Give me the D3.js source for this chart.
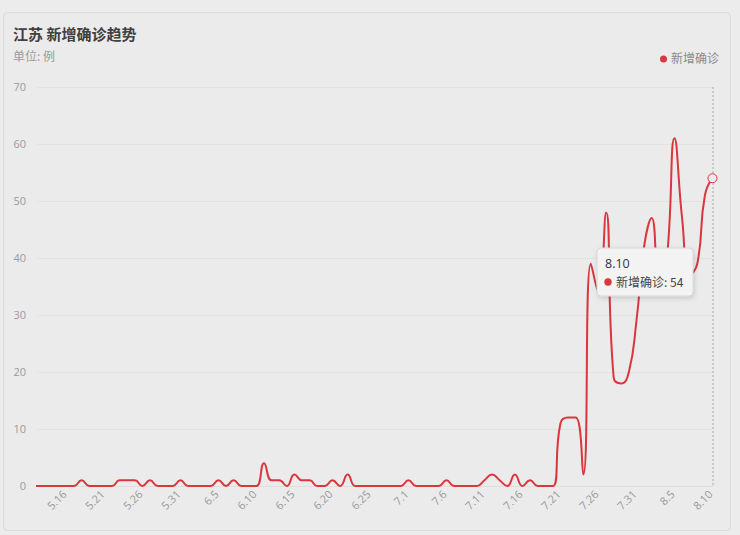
<!DOCTYPE html>
<html><head><meta charset="utf-8">
<script src="https://cdn.jsdelivr.net/npm/d3@7/dist/d3.min.js"></script>
<style>
html,body{margin:0;padding:0;background:#ececec;}
svg{display:block;font-family:"Noto Sans CJK SC","Noto Sans",sans-serif;}
</style></head><body>
<svg id="chart" width="740" height="535"></svg>
<script>
const dates = ["5.12","5.13","5.14","5.15","5.16","5.17","5.18","5.19","5.20","5.21","5.22","5.23","5.24","5.25","5.26","5.27","5.28","5.29","5.30","5.31",
"6.1","6.2","6.3","6.4","6.5","6.6","6.7","6.8","6.9","6.10","6.11","6.12","6.13","6.14","6.15","6.16","6.17","6.18","6.19","6.20","6.21","6.22","6.23","6.24","6.25","6.26","6.27","6.28","6.29",
"7.1","7.2","7.3","7.4","7.5","7.6","7.7","7.8","7.9","7.10","7.11","7.12","7.13","7.14","7.15","7.16","7.17","7.18","7.19","7.20","7.21","7.22","7.23","7.24","7.25","7.26","7.27","7.28","7.29","7.30","7.31",
"8.1","8.2","8.3","8.4","8.5","8.6","8.7","8.8","8.9","8.10"];
const newConfirmed = [0,0,0,0,0,0,1,0,0,0,0,1,1,1,0,1,0,0,0,1,
0,0,0,0,1,0,1,0,0,0,4,1,1,0,2,1,1,0,0,1,0,2,0,0,0,0,0,0,0,
1,0,0,0,0,1,0,0,0,0,1,2,1,0,2,0,1,0,0,0,11,12,12,2,39,34,48,19,18,20,29,
42,47,35,40,61,47,37,39,51,54];
const yTicks = [0,10,20,30,40,50,60,70];
const seriesName = "新增确诊";
const title = "江苏 新增确诊趋势";
const unitLabel = "单位: 例";

const svg = d3.select("#chart");
const red = "#d9363e";

// card
svg.append("rect").attr("x",3.5).attr("y",12.5).attr("width",727).attr("height",518).attr("rx",4)
  .attr("fill","#ebebeb").attr("stroke","#dadada");

svg.append("text").attr("x",13).attr("y",40).attr("font-size",15).attr("font-weight","bold").attr("fill","#404040").text(title);
svg.append("text").attr("x",13).attr("y",61).attr("font-size",12).attr("fill","#9a9a9a").text(unitLabel);

// legend
svg.append("circle").attr("cx",663.5).attr("cy",59).attr("r",3.5).attr("fill",red);
svg.append("text").attr("x",671).attr("y",63).attr("font-size",12).attr("fill","#8a8a8a").text(seriesName);

const x = d3.scalePoint().domain(dates).range([36,712.5]);
const y = d3.scaleLinear().domain([0,70]).range([486,87]);

// grid
svg.append("g").selectAll("line").data(yTicks).join("line")
  .attr("x1",37).attr("x2",713).attr("y1",d=>y(d)+0.5).attr("y2",d=>y(d)+0.5)
  .attr("stroke",d=>d===0?"#dedede":"#e2e2e2").attr("stroke-width",1);
svg.append("g").selectAll("text").data(yTicks).join("text")
  .attr("x",26).attr("y",d=>y(d)+4).attr("text-anchor","end").attr("font-size",11).attr("fill","#9a9a9a")
  .attr("font-family","'Open Sans','Noto Sans',sans-serif").text(d=>d);

// x labels every 5
const labelDates = dates.filter((d,i)=>i%5===4);
svg.append("g").selectAll("text").data(labelDates).join("text")
  .attr("transform",d=>`translate(${x(d)+1},${495}) rotate(-45)`)
  .attr("text-anchor","end").attr("font-size",11).attr("fill","#9a9a9a")
  .attr("font-family","'Open Sans','Noto Sans',sans-serif").text(d=>d);

// axis pointer
svg.append("line").attr("x1",x("8.10")+0.5).attr("x2",x("8.10")+0.5).attr("y1",87).attr("y2",486)
  .attr("stroke","#a8a8a8").attr("stroke-dasharray","2,2");

// ECharts-like smooth curve
function echartsCurve(context){
  let pts=[];
  return {
    areaStart(){}, areaEnd(){},
    lineStart(){pts=[];},
    point(px,py){pts.push([+px,+py]);},
    lineEnd(){
      const s=0.5, n=pts.length;
      if(!n) return;
      let cpx0=pts[0][0], cpy0=pts[0][1];
      context.moveTo(pts[0][0],pts[0][1]);
      for(let i=1;i<n;i++){
        const [xx,yy]=pts[i], [px,py]=pts[i-1];
        let cpx1,cpy1,ncx,ncy;
        if(i===n-1){ cpx1=xx; cpy1=yy; ncx=xx; ncy=yy; }
        else{
          const [nx,ny]=pts[i+1];
          let vx=nx-px, vy=ny-py;
          const dx0=xx-px, dy0=yy-py, dx1=nx-xx, dy1=ny-yy;
          const lp=Math.hypot(dx0,dy0), ln=Math.hypot(dx1,dy1);
          const r=ln/(ln+lp);
          ncx=xx+vx*s*r; ncy=yy+vy*s*r;
          ncx=Math.min(ncx,Math.max(nx,xx)); ncy=Math.min(ncy,Math.max(ny,yy));
          ncx=Math.max(ncx,Math.min(nx,xx)); ncy=Math.max(ncy,Math.min(ny,yy));
          vx=ncx-xx; vy=ncy-yy;
          cpx1=xx-vx*lp/ln; cpy1=yy-vy*lp/ln;
          cpx1=Math.min(cpx1,Math.max(px,xx)); cpy1=Math.min(cpy1,Math.max(py,yy));
          cpx1=Math.max(cpx1,Math.min(px,xx)); cpy1=Math.max(cpy1,Math.min(py,yy));
          vx=xx-cpx1; vy=yy-cpy1;
          ncx=xx+vx*ln/lp; ncy=yy+vy*ln/lp;
        }
        context.bezierCurveTo(cpx0,cpy0,cpx1,cpy1,xx,yy);
        cpx0=ncx; cpy0=ncy;
      }
    }
  };
}

const data = dates.map((d,i)=>({d, v:newConfirmed[i]}));
const line = d3.line().x(p=>x(p.d)).y(p=>y(p.v)).curve(echartsCurve);
svg.append("path").datum(data).attr("d",line).attr("fill","none").attr("stroke",red).attr("stroke-width",2);

// highlighted last point
const last = data[data.length-1];
svg.append("circle").attr("cx",x(last.d)).attr("cy",y(last.v)).attr("r",4.5)
  .attr("fill","#ebebeb").attr("stroke",red).attr("stroke-width",1);

// tooltip
const defs = svg.append("defs");
const f = defs.append("filter").attr("id","sh").attr("x","-20%").attr("y","-20%").attr("width","140%").attr("height","150%");
f.append("feDropShadow").attr("dx",1).attr("dy",2).attr("stdDeviation",2.5).attr("flood-color","#000").attr("flood-opacity",0.15);
const tt = svg.append("g").attr("transform","translate(597,248)");
tt.append("rect").attr("width",96).attr("height",48).attr("rx",4).attr("fill","#f3f3f3").attr("stroke","#d8d8d8").attr("filter","url(#sh)");
tt.append("text").attr("x",8).attr("y",20).attr("font-size",12.5).attr("fill","#333").attr("font-family","'Open Sans','Noto Sans',sans-serif").text(last.d);
tt.append("circle").attr("cx",11).attr("cy",34).attr("r",3.7).attr("fill",red);
tt.append("text").attr("x",19).attr("y",38.5).attr("font-size",12).attr("fill","#444").text(`${seriesName}: ${last.v}`);
</script>
</body></html>
